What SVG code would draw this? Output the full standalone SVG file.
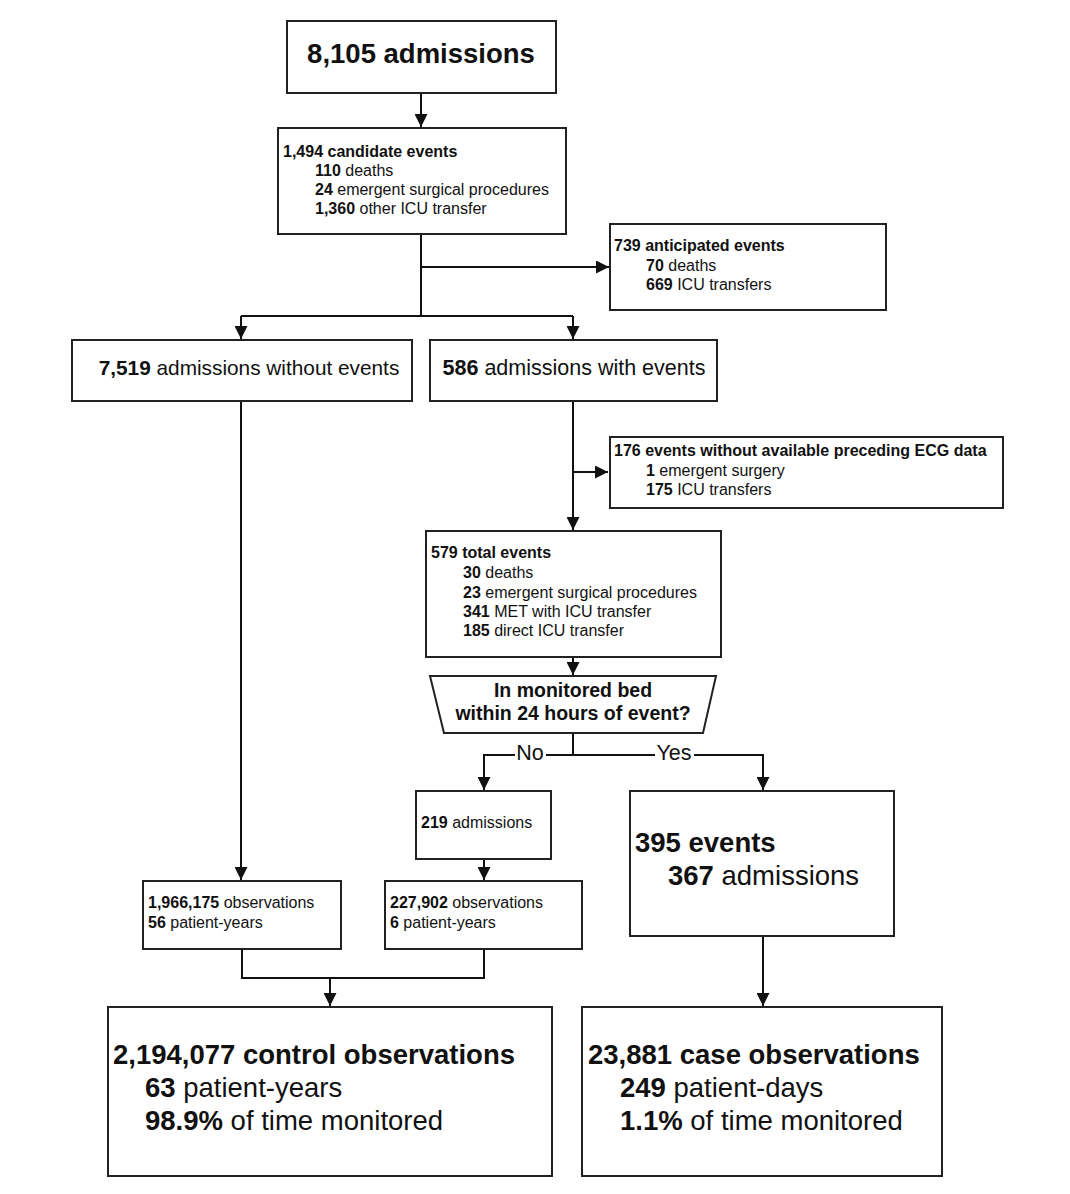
<svg xmlns="http://www.w3.org/2000/svg" width="1070" height="1194" viewBox="0 0 1070 1194">
<style>
.box{fill:#fff;stroke:#222;stroke-width:2}
.ln{fill:none;stroke:#111;stroke-width:2}
text{font-family:"Liberation Sans",Arial,sans-serif;fill:#111}
.s{font-size:16px}
.m{font-size:21.5px}
.l{font-size:27.5px}
.q{font-size:19.5px;font-weight:bold}
b,.b{font-weight:bold}
</style>
<defs>
<marker id="ah" viewBox="0 0 10 10" refX="10" refY="5" markerWidth="6.5" markerHeight="6.5" markerUnits="strokeWidth" orient="auto">
<path d="M0,0 L10,5 L0,10 z" fill="#111"/>
</marker>
</defs>
<rect width="1070" height="1194" fill="#fff"/>
<g id="connectors">
<path class="ln" d="M421,93 V127" marker-end="url(#ah)"/>
<path class="ln" d="M421,234 V316"/>
<path class="ln" d="M421,267 H609" marker-end="url(#ah)"/>
<path class="ln" d="M241,316 H573"/>
<path class="ln" d="M241,316 V339" marker-end="url(#ah)"/>
<path class="ln" d="M573,316 V339" marker-end="url(#ah)"/>
<path class="ln" d="M241,401 V880" marker-end="url(#ah)"/>
<path class="ln" d="M573,401 V530" marker-end="url(#ah)"/>
<path class="ln" d="M573,472 H608" marker-end="url(#ah)"/>
<path class="ln" d="M573,657 V675" marker-end="url(#ah)"/>
<path class="ln" d="M573,733 V755"/>
<path class="ln" d="M484,790 V755 H763 V790" marker-end="url(#ah)"/>
<path class="ln" d="M484,765 V790" marker-end="url(#ah)"/>
<path class="ln" d="M484,859 V880" marker-end="url(#ah)"/>
<path class="ln" d="M242,949 V978 H484 V949"/>
<path class="ln" d="M330,978 V1006" marker-end="url(#ah)"/>
<path class="ln" d="M763,936 V1006" marker-end="url(#ah)"/>
<rect x="515" y="742" width="31" height="24" fill="#fff"/>
<rect x="655" y="742" width="39" height="24" fill="#fff"/>
<text class="m" x="530" y="760" text-anchor="middle">No</text>
<text class="m" x="674" y="760" text-anchor="middle">Yes</text>
</g>
<g id="n_admissions">
<rect class="box" x="287" y="21" width="269" height="72"/>
<text class="l b" x="421" y="63" text-anchor="middle">8,105 admissions</text>
</g>
<g id="n_candidate">
<rect class="box" x="278" y="128" width="288" height="106"/>
<text class="s b" x="283" y="157">1,494 candidate events</text>
<text class="s" x="315" y="176"><tspan class="b">110</tspan> deaths</text>
<text class="s" x="315" y="195"><tspan class="b">24</tspan> emergent surgical procedures</text>
<text class="s" x="315" y="214"><tspan class="b">1,360</tspan> other ICU transfer</text>
</g>
<g id="n_anticipated">
<rect class="box" x="610" y="224" width="276" height="86"/>
<text class="s b" x="614" y="251">739 anticipated events</text>
<text class="s" x="646" y="271"><tspan class="b">70</tspan> deaths</text>
<text class="s" x="646" y="290"><tspan class="b">669</tspan> ICU transfers</text>
</g>
<g id="n_without">
<rect class="box" x="72" y="340" width="340" height="61"/>
<text class="m" x="249" y="375" text-anchor="middle" style="font-size:20.8px"><tspan class="b">7,519</tspan> admissions without events</text>
</g>
<g id="n_with">
<rect class="box" x="430" y="340" width="287" height="61"/>
<text class="m" x="574" y="375" text-anchor="middle"><tspan class="b">586</tspan> admissions with events</text>
</g>
<g id="n_noecg">
<rect class="box" x="610" y="437" width="393" height="71"/>
<text class="s b" x="614" y="456">176 events without available preceding ECG data</text>
<text class="s" x="646" y="476"><tspan class="b">1</tspan> emergent surgery</text>
<text class="s" x="646" y="495"><tspan class="b">175</tspan> ICU transfers</text>
</g>
<g id="n_total">
<rect class="box" x="426" y="531" width="295" height="126"/>
<text class="s b" x="431" y="558">579 total events</text>
<text class="s" x="463" y="578"><tspan class="b">30</tspan> deaths</text>
<text class="s" x="463" y="598"><tspan class="b">23</tspan> emergent surgical procedures</text>
<text class="s" x="463" y="617"><tspan class="b">341</tspan> MET with ICU transfer</text>
<text class="s" x="463" y="636"><tspan class="b">185</tspan> direct ICU transfer</text>
</g>
<g id="n_decision">
<polygon class="box" points="430,676 716,676 703,733 444,733"/>
<text class="q" x="573" y="697" text-anchor="middle">In monitored bed</text>
<text class="q" x="573" y="720" text-anchor="middle">within 24 hours of event?</text>
</g>
<g id="n_219">
<rect class="box" x="416" y="791" width="135" height="68"/>
<text class="s" x="421" y="828"><tspan class="b">219</tspan> admissions</text>
</g>
<g id="n_395">
<rect class="box" x="630" y="791" width="264" height="145"/>
<text class="l b" x="635" y="852">395 events</text>
<text class="l" x="668" y="885"><tspan class="b">367</tspan> admissions</text>
</g>
<g id="n_1966">
<rect class="box" x="143" y="881" width="198" height="68"/>
<text class="s" x="148" y="908"><tspan class="b">1,966,175</tspan> observations</text>
<text class="s" x="148" y="928"><tspan class="b">56</tspan> patient-years</text>
</g>
<g id="n_227">
<rect class="box" x="385" y="881" width="197" height="68"/>
<text class="s" x="390" y="908"><tspan class="b">227,902</tspan> observations</text>
<text class="s" x="390" y="928"><tspan class="b">6</tspan> patient-years</text>
</g>
<g id="n_control">
<rect class="box" x="108" y="1007" width="444" height="169"/>
<text class="l b" x="113" y="1064">2,194,077 control observations</text>
<text class="l" x="145" y="1097"><tspan class="b">63</tspan> patient-years</text>
<text class="l" x="145" y="1130"><tspan class="b">98.9%</tspan> of time monitored</text>
</g>
<g id="n_case">
<rect class="box" x="582" y="1007" width="360" height="169"/>
<text class="l b" x="588" y="1064">23,881 case observations</text>
<text class="l" x="620" y="1097"><tspan class="b">249</tspan> patient-days</text>
<text class="l" x="620" y="1130"><tspan class="b">1.1%</tspan> of time monitored</text>
</g>
</svg>
